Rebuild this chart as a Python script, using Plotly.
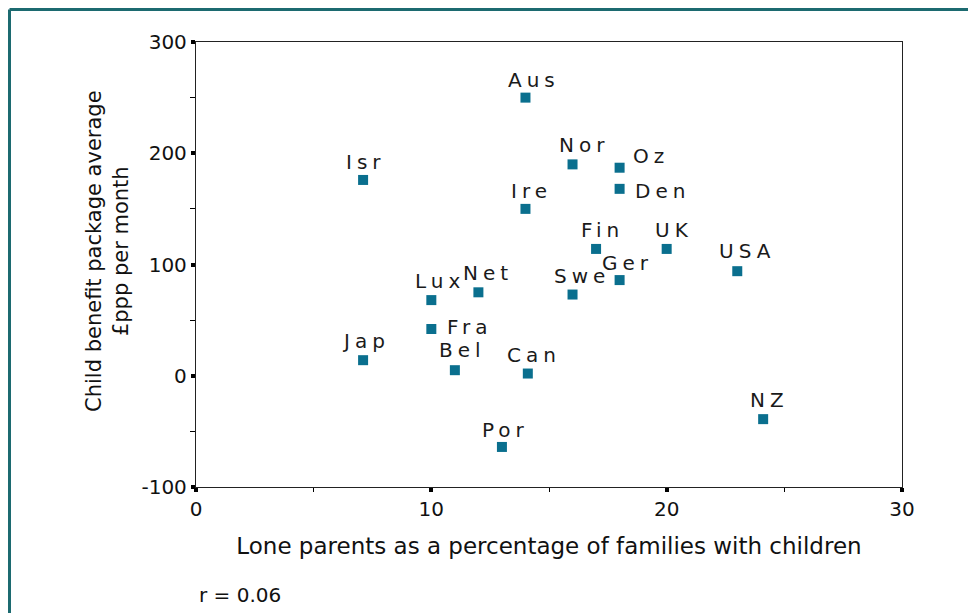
import plotly.graph_objects as go

# ---- data ----
countries = ["Aus", "Isr", "Nor", "Oz", "Den", "Ire", "Fin", "UK", "Ger", "Swe",
             "Net", "Lux", "Fra", "Jap", "Bel", "Can", "USA", "NZ", "Por"]
lone_parent_pct = [14, 7.1, 16, 18, 18, 14, 17, 20, 18, 16,
                   12, 10, 10, 7.1, 11, 14.1, 23, 24.1, 13]
benefit = [250, 176, 190, 187, 168, 150, 114, 114, 86, 73,
           75, 68, 42, 14, 5, 2, 94, -39, -64]
x_ticks = [0, 10, 20, 30]
y_ticks = [-100, 0, 100, 200, 300]
x_title = "Lone parents as a percentage of families with children"
y_title = "Child benefit package average<br>£ppp per month"
note = "r = 0.06"

# ---- label placement (style) ----
# (xanchor, xshift, yshift)
label_pos = {
    "Aus": ("center", 9, 18), "Isr": ("center", 3, 18), "Nor": ("center", 11, 19),
    "Oz": ("left", 11, 12), "Den": ("left", 13, -2), "Ire": ("center", 6, 18),
    "Fin": ("center", 6, 19), "UK": ("center", 7, 19), "Ger": ("center", 8, 17),
    "Swe": ("center", 9, 19), "Net": ("center", 10, 19), "Lux": ("center", 9, 19),
    "Fra": ("left", 14, 2), "Jap": ("center", 3, 19), "Bel": ("center", 8, 20),
    "Can": ("center", 6, 19), "USA": ("center", 10, 20), "NZ": ("center", 6, 19),
    "Por": ("center", 4, 17),
}

MARK = "#0a6f8e"
TEAL = "#1c6a70"
FONT = "DejaVu Sans"

# plot area in figure pixels (page is offset 8px by the body margin)
L, T, W, H = 188, 34, 706, 445
FIG_W, FIG_H = 976, 613


def px(xp):
    return (xp - L) / W


def py(yp):
    return (T + H - yp) / H


fig = go.Figure()
fig.add_trace(go.Scatter(
    x=lone_parent_pct, y=benefit, mode="markers",
    marker=dict(symbol="square", size=10, color=MARK, line=dict(width=0)),
    hoverinfo="skip", showlegend=False,
))

for c, xv, yv in zip(countries, lone_parent_pct, benefit):
    xa, xs, ys = label_pos[c]
    fig.add_annotation(
        x=xv, y=yv, xref="x", yref="y", showarrow=False,
        text=f'<span style="letter-spacing:5px">{c}</span>',
        xanchor=xa, yanchor="middle", xshift=xs, yshift=ys,
        font=dict(family=FONT, size=20, color="#1a1a1a"),
    )

# y-axis title (placed as a rotated annotation, centred as in the original)
fig.add_annotation(
    x=px(99.5), y=py(243.5), xref="paper", yref="paper",
    xanchor="center", yanchor="middle", showarrow=False, textangle=-90,
    text=y_title, font=dict(family=FONT, size=21, color="#111"),
)

# note text below the axis title
fig.add_annotation(
    x=px(189), y=py(587), xref="paper", yref="paper",
    xanchor="left", yanchor="middle", showarrow=False, text=note,
    font=dict(family=FONT, size=20, color="#111"),
)

axis_common = dict(
    showgrid=False, zeroline=False, showline=True, linecolor="#222", linewidth=1.3,
    mirror=True, ticks="outside", ticklen=4, tickwidth=4, tickcolor="#000",
    tickfont=dict(family=FONT, size=20, color="#111"),
)

fig.update_xaxes(
    range=[0, 30], tickvals=x_ticks, ticktext=[str(v) for v in x_ticks],
    minor=dict(tickvals=[5, 15, 25], ticks="outside", ticklen=4, tickwidth=1, tickcolor="#000"),
    title=dict(text=x_title, standoff=17, font=dict(family=FONT, size=23, color="#111")),
    **axis_common,
)
fig.update_yaxes(
    range=[-100, 300], tickvals=y_ticks, ticktext=[str(v) for v in y_ticks],
    minor=dict(tickvals=[-50, 50, 150, 250], ticks="outside", ticklen=5, tickwidth=1, tickcolor="#000"),
    **axis_common,
)

# teal frame around the figure (left and top edges, as in the original)
fig.add_shape(type="line", xref="paper", yref="paper",
              x0=px(1.5), x1=px(1.5), y0=py(FIG_H + 10), y1=py(1.5),
              line=dict(color=TEAL, width=3))
fig.add_shape(type="line", xref="paper", yref="paper",
              x0=px(1.5), x1=px(FIG_W + 10), y0=py(1.5), y1=py(1.5),
              line=dict(color=TEAL, width=3))

fig.update_layout(
    width=FIG_W, height=FIG_H,
    margin=dict(l=L, r=FIG_W - L - W, t=T, b=FIG_H - T - H),
    paper_bgcolor="white", plot_bgcolor="white",
    font=dict(family=FONT, color="#111"),
)

fig.write_html("out.html")
